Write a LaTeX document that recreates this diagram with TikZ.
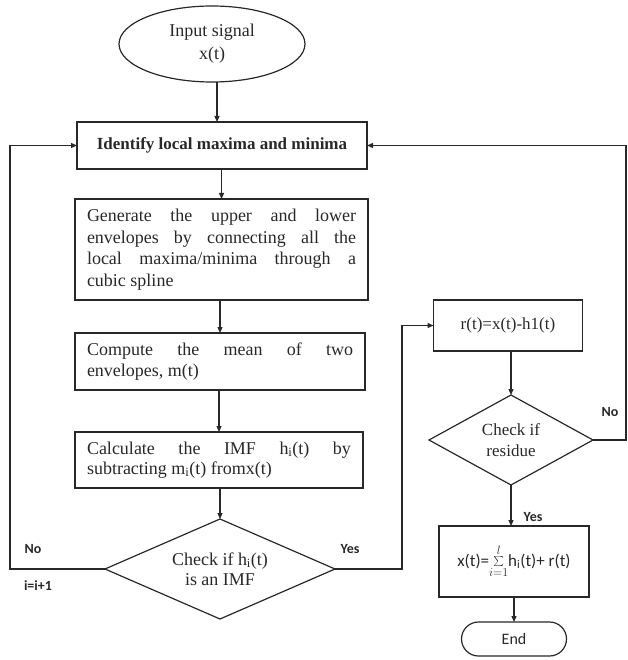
\documentclass[tikz,border=0pt]{standalone}
\usepackage{fontspec}
\setmainfont{Liberation Serif}
\newfontfamily\calib{Carlito}
\usetikzlibrary{shapes.geometric,arrows.meta}
\definecolor{ink}{RGB}{40,40,40}
\begin{document}
\begin{tikzpicture}[x=1pt,y=-1pt,
  every node/.style={inner sep=0pt, outer sep=0pt, text=ink},
  ln/.style={draw=ink, line width=1.2pt},
  arr/.style={ln, -{Triangle[length=6pt,width=5pt]}},
  mainfont/.style={font=\fontsize{18}{21.5}\selectfont},
  procbox/.style={ln, mainfont, align=justify, inner xsep=12pt},
  plainbox/.style={ln, align=center},
  decision/.style={ln, diamond, align=center},
  lbl/.style={font=\calib\bfseries\fontsize{14}{16}\selectfont},
]
\useasboundingbox (0,0) rectangle (627,660);

% left column
\node[ln, ellipse, minimum width=186pt, minimum height=76pt, align=center,
      font=\fontsize{18}{23}\selectfont] (in) at (212,44) {Input signal\\x(t)};
\node[plainbox, font=\bfseries\fontsize{17}{21}\selectfont, minimum width=290pt, minimum height=47pt] (b1) at (222,145.5)
  {Identify local maxima and minima};
\node[procbox, text width=269pt, minimum height=101pt] (b2) at (221.5,249.5)
  {Generate the upper and lower\linebreak envelopes by connecting all the\linebreak local maxima/minima through a\linebreak cubic spline};
\node[procbox, text width=266pt, minimum height=57pt] (b3) at (220,361.5)
  {Compute the mean of two\linebreak envelopes, m(t)};
\node[procbox, text width=264pt, minimum height=56pt, font=\fontsize{18}{20}\selectfont] (b4) at (219,460)
  {Calculate the IMF h\textsubscript{i}(t) by\linebreak subtracting m\textsubscript{i}(t) fromx(t)};
\node[decision, aspect=2.3, minimum width=230pt, minimum height=100pt,
      font=\fontsize{18}{20.5}\selectfont] (d1) at (220,569)
  {Check if h\textsubscript{i}(t)\\is an IMF};

% right column
\node[plainbox, minimum width=149pt, minimum height=51pt,
      font=\fontsize{17}{19}\selectfont] (r) at (508,325.5) {r(t)=x(t)-h1(t)};
\node[decision, aspect=1.8, minimum width=164pt, minimum height=90pt,
      font=\fontsize{17}{20.5}\selectfont] (d2) at (511,440)
  {Check if\\residue};
\node[plainbox, minimum width=150pt, minimum height=71pt,
      font=\calib\fontsize{17}{19}\selectfont] (s) at (514,561.5)
  {x(t)=$\sum\limits_{i=1}^{l}$h\textsubscript{i}(t)+ r(t)};
\node[ln, rounded corners=17pt, minimum width=105pt, minimum height=34pt,
      font=\calib\fontsize{16}{18}\selectfont] (e) at (514,639) {End};

% connectors
\draw[arr] ([xshift=5pt]in.south) -- ([xshift=5pt]in.south |- b1.north);
\draw[arr] (b1.south -| b2.north) -- (b2.north);
\draw[arr] (b2.south -| b3.north) -- (b3.north);
\draw[arr] (b3.south -| b4.north) -- (b4.north);
\draw[arr] (b4.south -| d1.north) -- (d1.north);
\draw[arr] (d1.west) -- ++(-95,0) |- (b1.west);
\draw[arr] (d1.east) -- ++(67,0) |- (r.west);
\draw[arr] (r.south -| d2.north) -- (d2.north);
\draw[arr] (d2.south) -- (d2.south |- s.north);
\draw[arr] (s.south) -- (e.north);
\draw[arr] (d2.east) -- ++(33,0) |- (b1.east);

% labels
\node[lbl] (lno) at (33,549) {No};
\node[lbl] (linc) at (38,586) {i=i+1};
\node[lbl] (lyes) at (350,549) {Yes};
\node[lbl] (rno) at (610,412) {No};
\node[lbl] (ryes) at (533,517) {Yes};
\end{tikzpicture}
\end{document}
